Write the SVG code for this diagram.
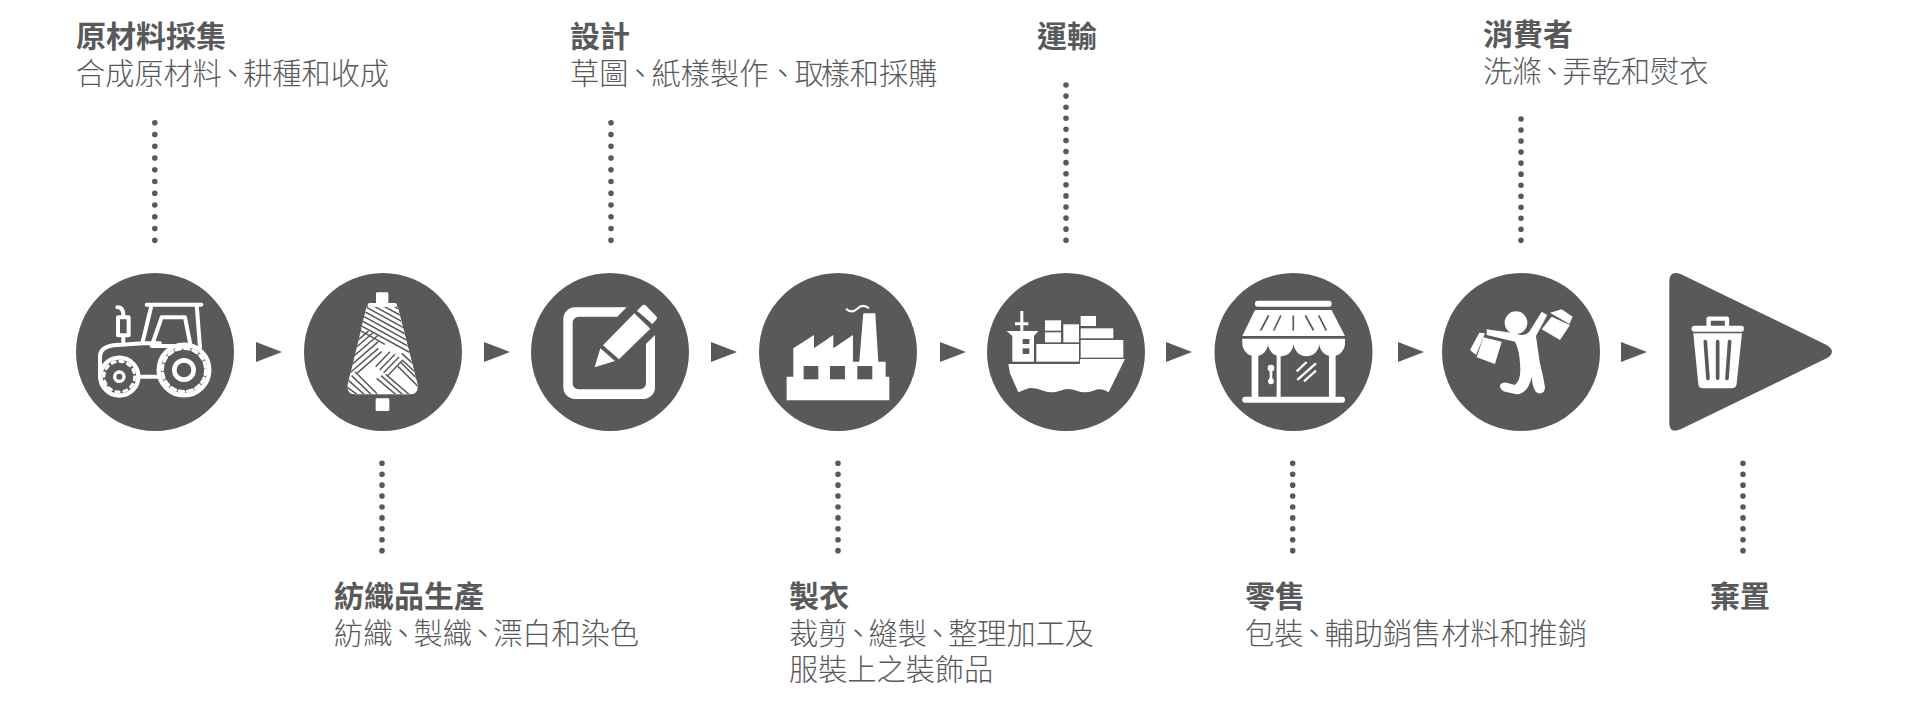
<svg xmlns="http://www.w3.org/2000/svg" width="1920" height="716" viewBox="0 0 1920 716">
<style>
text{font-family:"Noto Sans CJK TC","Noto Sans CJK SC",sans-serif;fill:#58595b}
.t{font-size:30px;font-weight:700}
.d{font-size:29.200px;font-weight:300}
.c{fill:#58595b}
.w{fill:#fff}
.k{fill:#58595b}
.s{fill:none;stroke:#fff;stroke-linecap:round;stroke-linejoin:round}
.n{fill:none;stroke:#58595b;stroke-linecap:round}
.dot{fill:none;stroke:#58595b;stroke-width:5.6;stroke-linecap:round}
.arr{fill:#58595b}
</style>
<defs>
<clipPath id="coneClip"><path d="M95 65H188L248 300Q250 328 225 328H60Q36 328 38 300Z"/></clipPath>
</defs>
<rect width="1920" height="716" fill="#fff"/>
<g id="connectors">
<path class="dot" stroke-dasharray="0 11.76" d="M154.800 122.700V241"/>
<path class="dot" stroke-dasharray="0 11.76" d="M611 122.700V241"/>
<path class="dot" stroke-dasharray="0 11.09" d="M1066 85V241"/>
<path class="dot" stroke-dasharray="0 11.03" d="M1521 119V241"/>
<path class="dot" stroke-dasharray="0 10.92" d="M382 463.300V551"/>
<path class="dot" stroke-dasharray="0 10.92" d="M838 463.300V551"/>
<path class="dot" stroke-dasharray="0 10.92" d="M1292.700 463.300V551"/>
<path class="dot" stroke-dasharray="0 10.92" d="M1743 463.300V551"/>
<polygon class="arr" points="256,342 282,352 256,362"/>
<polygon class="arr" points="484,342 510,352 484,362"/>
<polygon class="arr" points="711,342 737,352 711,362"/>
<polygon class="arr" points="940,342 966,352 940,362"/>
<polygon class="arr" points="1166,342 1192,352 1166,362"/>
<polygon class="arr" points="1398,342 1424,352 1398,362"/>
<polygon class="arr" points="1621,342 1647,352 1621,362"/>
</g>
<g id="node-raw">
<circle class="c" cx="155" cy="352" r="79"/>
<g transform="translate(60 260) scale(.3333)">
<path class="s" stroke-width="12" d="M260 134H424M275 134L248 245M410 134L420 262M305 172H375L392 258H275ZM172 142Q192 142 190 170M174 172H206V226H174ZM190 226V246"/>
<path class="s" stroke-width="12" d="M120 345V290Q120 262 160 256L250 250H300M235 350H298M120 345Q122 372 140 385"/>
<circle class="s" cx="178" cy="350" r="57" stroke-width="13"/>
<circle class="s" cx="178" cy="350" r="46" stroke-width="9" stroke-dasharray="10 14.100" stroke-linecap="butt"/>
<circle class="s" cx="178" cy="350" r="14" stroke-width="10"/>
<circle class="s" cx="372" cy="330" r="76" stroke-width="13"/>
<circle class="s" cx="372" cy="330" r="65" stroke-width="10" stroke-dasharray="14 11.500" stroke-linecap="butt"/>
<circle class="s" cx="372" cy="330" r="29" stroke-width="14"/>
</g>
</g>
<g id="node-textile">
<circle class="c" cx="383" cy="352" r="79"/>
<g transform="translate(335 285) scale(.3333)">
<rect class="w" x="123" y="22" width="37" height="38" rx="4"/>
<rect class="w" x="122" y="340" width="41" height="38" rx="4"/>
<rect class="w" x="98" y="54" width="88" height="13" rx="6"/>
<path class="w" d="M95 65H188L248 300Q250 328 225 328H60Q36 328 38 300Z"/>
<g clip-path="url(#coneClip)" fill="none" stroke="#58595b" stroke-width="4.500">
<path d="M20 245L130 150M20 265L130 170M20 285L130 190M20 305L140 200M20 225L120 138M40 190L110 130"/>
<polygon class="w" stroke="none" points="160,190 260,190 260,340 200,340"/>
<path d="M165 200L250 285M160 215L250 305M180 205L250 270M200 205L250 250"/>
<polygon class="w" stroke="none" points="112,250 165,193 208,222 155,278"/>
<path d="M122 245L165 200M134 255L180 208M146 263L192 216M158 272L204 224"/>
<polygon class="w" stroke="none" points="20,285 62,258 135,335 20,340"/>
<path d="M50 272L115 335M38 284L95 335M25 298L75 335M60 260L135 335"/>
<polygon class="w" stroke="none" points="110,285 150,268 235,335 130,335"/>
<path d="M125 280L190 335M138 272L210 335M152 268L230 335"/>
<polygon class="w" stroke="none" points="40,55 250,55 250,205 40,112"/>
<path d="M60 80L230 173.500M60 96L230 189.500M60 64L230 157.500M60 48L230 141.500M60 32L230 125.500M60 16L230 109.500M60 112L230 205.500M60 0L230 93.500"/>
<path d="M60 128L150 178"/>
</g>
</g>
</g>
<g id="node-design">
<circle class="c" cx="610" cy="352" r="79"/>
<g transform="translate(520 260) scale(.3333)">
<path class="w" d="M320 142H165A35 35 0 0 0 130 177V382A35 35 0 0 0 165 417H370A35 35 0 0 0 405 382V225L378 252V370A18 18 0 0 1 360 388H176A18 18 0 0 1 158 370V188A18 18 0 0 1 176 170H292Z"/>
<polygon class="w" points="224,322 241,265 285,303"/>
<polygon class="w" points="249,256 343,160 391,206 297,298"/>
<path class="w" d="M351 152L366 137Q372 131 378 137L408 168Q414 174 408 180L397 192Z"/>
</g>
</g>
<g id="node-garment">
<circle class="c" cx="838" cy="352" r="79"/>
<g transform="translate(520 260) scale(.3333)">
<path class="w" d="M800 350H820V265L882 225V265L940 225V265L999 225V305H1018L1030 160H1066L1075 305H1097V350H1108V421H800Z"/>
<rect class="k" x="851" y="318" width="44" height="40"/>
<rect class="k" x="930" y="318" width="45" height="40"/>
<rect class="k" x="1012" y="318" width="45" height="40"/>
<path d="M978 146Q995 162 1012 146T1047 145" fill="none" stroke="#fff" stroke-width="6"/>
</g>
</g>
<g id="node-transport">
<circle class="c" cx="1066" cy="352" r="79"/>
<g transform="translate(960 260) scale(.3333)">
<path class="w" d="M145 312H360V297H495L446 397Q425 382 400 392T350 392T300 392T250 392T205 385L175 397L150 340Z"/>
<path class="w" d="M181 153H190V187H205V196H190V213H235L222 228V305H157V228L140 213H181V196H165V187H181Z"/>
<rect class="k" x="188" y="237" width="20" height="15"/>
<rect class="k" x="188" y="265" width="20" height="17"/>
<rect class="w" x="229" y="252" width="128" height="53"/>
<rect class="w" x="362" y="240" width="128" height="53"/>
<rect class="w" x="255" y="181" width="48" height="31"/>
<rect class="w" x="255" y="217" width="48" height="30"/>
<rect class="w" x="310" y="193" width="47" height="54"/>
<rect class="w" x="362" y="205" width="98" height="30"/>
<rect class="w" x="362" y="168" width="46" height="30"/>
</g>
</g>
<g id="node-retail">
<circle class="c" cx="1293.500" cy="352" r="79"/>
<g transform="translate(960 260) scale(.3333)">
<rect class="w" x="885" y="122" width="230" height="18" rx="8"/>
<polygon class="w" points="885,150 1115,150 1155,228 847,228"/>
<path class="n" stroke-width="5" d="M925 168L903 210M962 168L942 210M1000 168V210M1037 168L1060 210M1077 168L1098 210"/>
<path class="w" d="M847 236H1155V250A38 38 0 0 1 1078 250A38 38 0 0 1 1001 250A38 38 0 0 1 924 250A38 38 0 0 1 847 250Z"/>
<rect class="w" x="875" y="270" width="20" height="142"/>
<rect class="w" x="950" y="270" width="12" height="142"/>
<rect class="w" x="1107" y="270" width="20" height="142"/>
<rect class="w" x="847" y="410" width="308" height="18" rx="8"/>
<path d="M933 322V368" stroke="#fff" stroke-width="8" stroke-linecap="round"/>
<circle class="w" cx="933" cy="324" r="10"/>
<circle class="w" cx="933" cy="364" r="9"/>
<path d="M1010 334L1040 306M1012 360L1068 310M1032 364L1068 332" stroke="#fff" stroke-width="7" fill="none"/>
</g>
</g>
<g id="node-consumer">
<circle class="c" cx="1521" cy="352" r="79"/>
<g transform="translate(1460 300) scale(.3333)">
<circle class="w" cx="168" cy="68" r="34"/>
<path class="w" d="M80 88L165 100Q190 112 208 95L245 35L262 45L228 108Q235 160 240 190Q252 240 255 262Q255 282 235 280Q218 275 215 230Q205 280 170 283L135 275Q118 268 120 255Q128 243 145 250L165 255Q185 240 180 190Q178 150 165 125L80 105Z"/>
<polygon class="w" points="70,112 125,125 105,192 50,172"/>
<polygon class="w" points="30,150 58,98 75,100 48,165"/>
<polygon class="w" points="245,88 275,50 330,75 300,120"/>
<polygon class="w" points="270,38 305,28 338,50 328,72"/>
</g>
</g>
<g id="node-disposal">
<g transform="translate(1400 260) scale(.3333)">
<path class="c" d="M808 65Q808 30 842 42L1280 255Q1312 275 1280 295L842 508Q808 522 808 490Z"/>
<rect class="w" x="875" y="197" width="157" height="18" rx="8"/>
<path class="s" stroke-width="13" d="M926 197V176H981V197"/>
<path class="w" d="M880 220H1026L1010 372Q1008 385 995 385H908Q897 385 895 372Z"/>
<path class="n" stroke-width="11" d="M916 245L924 355M953 245V355M989 245L981 355"/>
</g>
</g>
<g id="labels">
<text class="t" x="76" y="47">原材料採集</text>
<text class="d" x="76" y="84" dx="0 0 0 0 0 -4 -4">合成原材料、耕種和收成</text>
<text class="t" x="570" y="47">設計</text>
<text class="d" x="570" y="84" dx="0 0 -3 -3 0 0 0 0 -3 -3">草圖、紙樣製作、取樣和採購</text>
<text class="t" x="1037" y="47">運輸</text>
<text class="t" x="1483" y="45">消費者</text>
<text class="d" x="1483" y="82" dx="0 0 -4 -4">洗滌、弄乾和熨衣</text>
<text class="t" x="334" y="607">紡織品生產</text>
<text class="d" x="334" y="644" dx="0 0 -4 -4 0 -4 -4">紡織、製織、漂白和染色</text>
<text class="t" x="789" y="607">製衣</text>
<text class="d" x="789" y="644" dx="0 0 -4 -4 0 -4 -4">裁剪、縫製、整理加工及</text>
<text class="d" x="789" y="680">服裝上之裝飾品</text>
<text class="t" x="1245" y="607">零售</text>
<text class="d" x="1245" y="644" dx="0 0 -4 -4">包裝、輔助銷售材料和推銷</text>
<text class="t" x="1710" y="607">棄置</text>
</g>
</svg>
